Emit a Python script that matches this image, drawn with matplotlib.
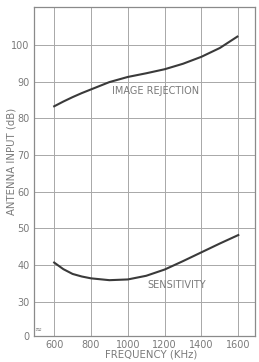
import numpy as np
import matplotlib
matplotlib.use("Agg")
import matplotlib.pyplot as plt

# values
freq_img = [600, 650, 700, 750, 800, 900, 1000, 1100, 1200, 1300, 1400, 1500, 1595]
image_rej = [83.3, 84.6, 85.8, 86.9, 87.9, 89.9, 91.3, 92.3, 93.4, 94.9, 96.8, 99.2, 102.3]

freq_sens = [600, 650, 700, 750, 800, 900, 1000, 1100, 1200, 1300, 1400, 1500, 1600]
sensitivity = [40.7, 38.9, 37.6, 36.9, 36.4, 35.9, 36.1, 37.1, 38.8, 41.1, 43.5, 45.9, 48.2]

x_ticks = [600, 800, 1000, 1200, 1400, 1600]
y_ticks = [30, 40, 50, 60, 70, 80, 90, 100]
y_bottom = 20.7   # broken axis: bottom is labelled 0

grey = "#7a7a7a"
plt.rcParams["font.family"] = "DejaVu Sans"

fig = plt.figure(figsize=(2.59, 3.62), dpi=100)
ax = fig.add_axes([0.131, 0.072, 0.853, 0.909])

ax.plot(freq_img, image_rej, color="#3a3a3a", lw=1.5, solid_joinstyle="round")
ax.plot(freq_sens, sensitivity, color="#3a3a3a", lw=1.5, solid_joinstyle="round")

ax.set_xlim(490, 1690)
ax.set_ylim(y_bottom, 110.4)

ax.set_xticks(x_ticks)
ax.set_yticks([y_bottom] + y_ticks)
ax.set_yticklabels(["0"] + [str(v) for v in y_ticks])
ax.tick_params(length=0, labelsize=7, colors=grey, pad=3)
ax.grid(True, color="#a8a8a8", lw=0.7)
for s in ax.spines.values():
    s.set_color("#8a8a8a")
    s.set_linewidth(0.9)

ax.text(915, 87.5, "IMAGE REJECTION", fontsize=7, color=grey, va="center")
ax.text(1108, 34.5, "SENSITIVITY", fontsize=7, color=grey, va="center")
ax.text(510, 22.6, "≈", fontsize=6, color=grey, va="center", ha="center")

fig.text(0.046, 0.555, "ANTENNA INPUT (dB)", rotation=90, fontsize=7.3,
         color=grey, ha="center", va="center")
fig.text(0.585, 0.022, "FREQUENCY (KHz)", fontsize=7.3, color=grey,
         ha="center", va="center")

fig.savefig("out.png", dpi=100, facecolor="white")
